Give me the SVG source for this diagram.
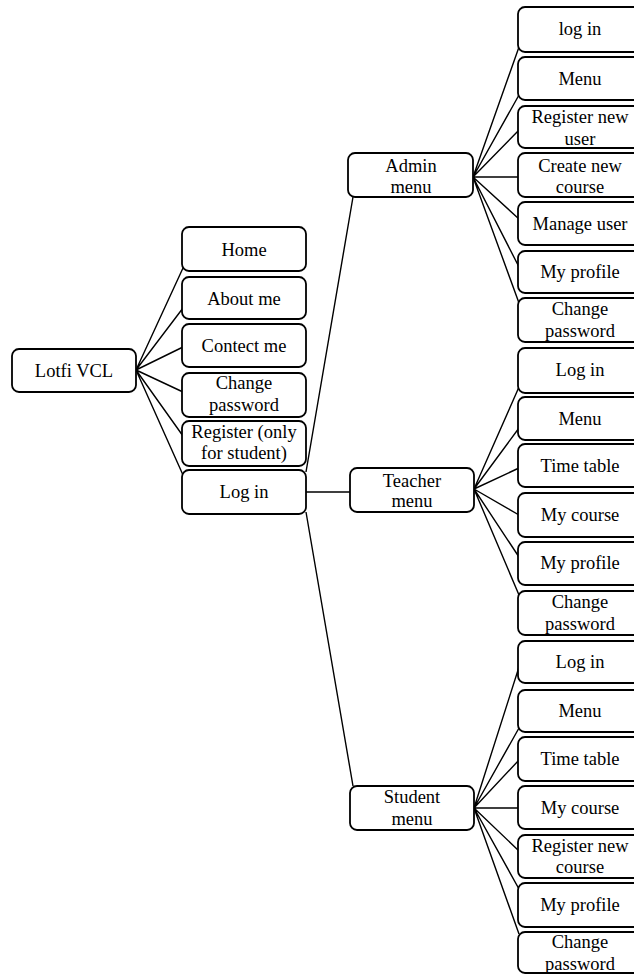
<svg xmlns="http://www.w3.org/2000/svg" width="634" height="975" viewBox="0 0 634 975">
<style>
.b{fill:#fff;stroke:#000;stroke-width:1.8}
.c{fill:none;stroke:#000;stroke-width:1.4}
text{text-anchor:middle;fill:#000}
</style>
<rect width="634" height="975" fill="#fff"/>
<g id="connectors">
<path class="c" d="M136 370L183 268M136 370L183 308M136 370L183 347M136 370L183 392M136 370L183 436M136 370L183 475"/>
<path class="c" d="M306 472L353 197M306 492L351 492M306 512L353 786"/>
<path class="c" d="M473 177L519 47M473 177L519 95M473 177L519 130M473 177L519 177M473 177L519 219M473 177L519 267M473 177L519 303"/>
<path class="c" d="M474 489L519 387M474 489L519 428M474 489L519 468M474 489L519 515M474 489L519 557M474 489L519 595"/>
<path class="c" d="M474 808L519 667M474 808L519 728M474 808L519 760M474 808L519 808M474 808L519 851M474 808L519 889M474 808L519 934"/>
</g>
<g font-family="Liberation Serif, Times New Roman, DejaVu Serif, serif" font-size="18.5">
<g id="n-lotfi"><rect class="b" x="12" y="349" width="124" height="43" rx="7"/><text x="74" y="377">Lotfi VCL</text></g>
<g id="n-home"><rect class="b" x="182" y="227" width="124" height="44" rx="7"/><text x="244" y="256">Home</text></g>
<g id="n-about"><rect class="b" x="182" y="277" width="124" height="42" rx="7"/><text x="244" y="305">About me</text></g>
<g id="n-contect"><rect class="b" x="182" y="324" width="124" height="43" rx="7"/><text x="244" y="352">Contect me</text></g>
<g id="n-change"><rect class="b" x="182" y="373" width="124" height="44" rx="7"/><text x="244" y="389">Change</text><text x="244" y="411">password</text></g>
<g id="n-register"><rect class="b" x="182" y="421" width="124" height="45" rx="7"/><text x="244" y="438">Register (only</text><text x="244" y="459">for student)</text></g>
<g id="n-login"><rect class="b" x="182" y="470" width="124" height="44" rx="7"/><text x="244" y="498">Log in</text></g>
<g id="n-admin"><rect class="b" x="348" y="153" width="125" height="44" rx="7"/><text x="411" y="172">Admin</text><text x="411" y="193">menu</text></g>
<g id="n-teacher"><rect class="b" x="350" y="468" width="124" height="44" rx="7"/><text x="412" y="487">Teacher</text><text x="412" y="507">menu</text></g>
<g id="n-student"><rect class="b" x="350" y="786" width="124" height="44" rx="7"/><text x="412" y="803">Student</text><text x="412" y="825">menu</text></g>
<g id="a1"><rect class="b" x="518" y="7" width="124" height="45" rx="7"/><text x="580" y="35">log in</text></g>
<g id="a2"><rect class="b" x="518" y="57" width="124" height="43" rx="7"/><text x="580" y="85">Menu</text></g>
<g id="a3"><rect class="b" x="518" y="106" width="124" height="42" rx="7"/><text x="580" y="123">Register new</text><text x="580" y="145">user</text></g>
<g id="a4"><rect class="b" x="518" y="153" width="124" height="44" rx="7"/><text x="580" y="172">Create new</text><text x="580" y="193">course</text></g>
<g id="a5"><rect class="b" x="518" y="202" width="124" height="43" rx="7"/><text x="580" y="230">Manage user</text></g>
<g id="a6"><rect class="b" x="518" y="251" width="124" height="42" rx="7"/><text x="580" y="278">My profile</text></g>
<g id="a7"><rect class="b" x="518" y="298" width="124" height="44" rx="7"/><text x="580" y="315">Change</text><text x="580" y="337">password</text></g>
<g id="t1"><rect class="b" x="518" y="348" width="124" height="45" rx="7"/><text x="580" y="376">Log in</text></g>
<g id="t2"><rect class="b" x="518" y="397" width="124" height="43" rx="7"/><text x="580" y="425">Menu</text></g>
<g id="t3"><rect class="b" x="518" y="444" width="124" height="43" rx="7"/><text x="580" y="472">Time table</text></g>
<g id="t4"><rect class="b" x="518" y="493" width="124" height="44" rx="7"/><text x="580" y="521">My course</text></g>
<g id="t5"><rect class="b" x="518" y="542" width="124" height="43" rx="7"/><text x="580" y="569">My profile</text></g>
<g id="t6"><rect class="b" x="518" y="591" width="124" height="44" rx="7"/><text x="580" y="608">Change</text><text x="580" y="630">password</text></g>
<g id="s1"><rect class="b" x="518" y="641" width="124" height="42" rx="7"/><text x="580" y="668">Log in</text></g>
<g id="s2"><rect class="b" x="518" y="690" width="124" height="42" rx="7"/><text x="580" y="717">Menu</text></g>
<g id="s3"><rect class="b" x="518" y="737" width="124" height="44" rx="7"/><text x="580" y="765">Time table</text></g>
<g id="s4"><rect class="b" x="518" y="786" width="124" height="43" rx="7"/><text x="580" y="814">My course</text></g>
<g id="s5"><rect class="b" x="518" y="835" width="124" height="43" rx="7"/><text x="580" y="852">Register new</text><text x="580" y="873">course</text></g>
<g id="s6"><rect class="b" x="518" y="883" width="124" height="44" rx="7"/><text x="580" y="911">My profile</text></g>
<g id="s7"><rect class="b" x="518" y="932" width="124" height="41" rx="7"/><text x="580" y="948">Change</text><text x="580" y="970">password</text></g>
</g>
</svg>
